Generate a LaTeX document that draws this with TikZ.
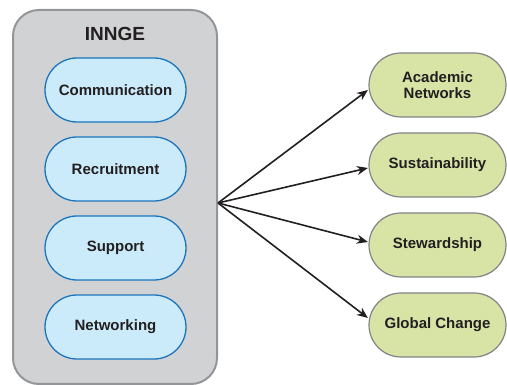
\documentclass[tikz,border=0pt]{standalone}
\usepackage{fontspec}
\setmainfont{Liberation Sans}
\usetikzlibrary{shapes.misc,arrows.meta,calc}
\definecolor{boxgray}{RGB}{209,210,212}
\definecolor{boxedge}{RGB}{147,149,152}
\definecolor{bluefill}{RGB}{204,235,250}
\definecolor{blueedge}{RGB}{28,117,188}
\definecolor{greenfill}{RGB}{215,228,166}
\definecolor{greenedge}{RGB}{128,130,133}
\definecolor{txt}{RGB}{35,31,32}
\tikzset{
  pill/.style={rounded rectangle, minimum height=64pt, inner sep=0pt,
    text=txt, font=\fontsize{15pt}{16.5pt}\selectfont\bfseries, align=center},
  bluepill/.style={pill, minimum width=141pt, fill=bluefill, draw=blueedge, line width=1.3pt},
  greenpill/.style={pill, minimum width=137pt, fill=greenfill, draw=greenedge, line width=1.2pt},
  conn/.style={-{Stealth[length=11pt,width=9pt]}, line width=1.6pt, draw=txt}
}
\begin{document}
\begin{tikzpicture}[x=1pt,y=-1pt]
\useasboundingbox (0,0) rectangle (507,385);
\draw[fill=boxgray, draw=boxedge, line width=2pt, rounded corners=26pt] (13,10) rectangle (217,384);
\node[text=txt, font=\fontsize{19pt}{21pt}\selectfont\bfseries] (title) at (115,34) {INNGE};
\node[bluepill] (comm) at (115.5,90) {Communication};
\node[bluepill] (recr) at (115.5,169) {Recruitment};
\node[bluepill] (supp) at (115.5,248) {Support};
\node[bluepill] (netw) at (115.5,327) {Networking};
\coordinate (hub) at (218,203);
\node[greenpill] (acad) at (437.5,85) {Academic\\Networks};
\node[greenpill] (sust) at (437.5,165) {Sustainability};
\node[greenpill] (stew) at (437.5,245) {Stewardship};
\node[greenpill] (glob) at (437.5,325) {Global Change};
\draw[conn] (hub) -- ($(acad.west)+(-0.5,5)$);
\draw[conn] (hub) -- ($(sust.west)+(-0.5,3)$);
\draw[conn] (hub) -- ($(stew.west)+(-0.5,-3)$);
\draw[conn] (hub) -- ($(glob.west)+(-0.5,-7)$);
\end{tikzpicture}
\end{document}
